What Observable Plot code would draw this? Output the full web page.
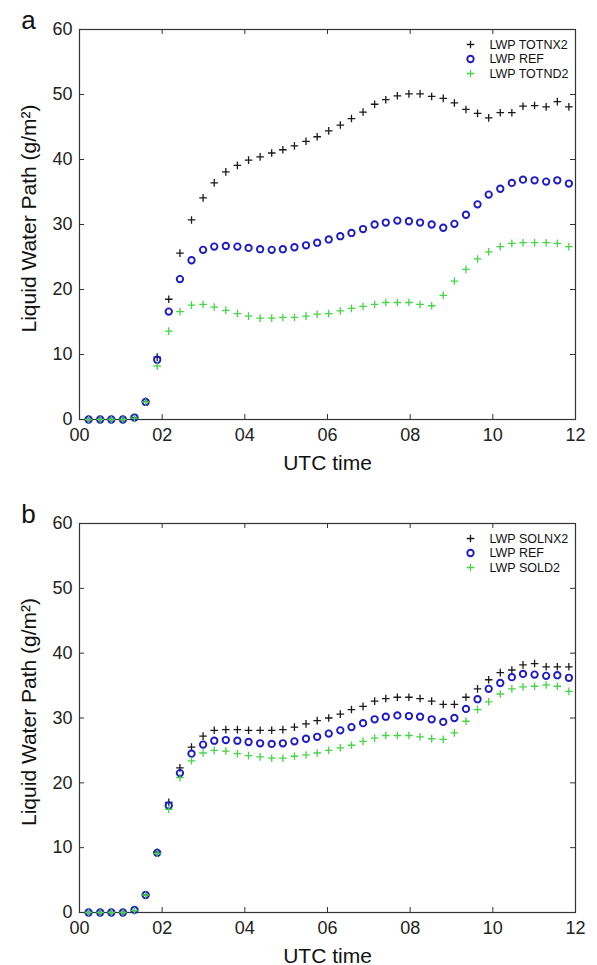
<!DOCTYPE html>
<html><head><meta charset="utf-8">
<script src="https://cdn.jsdelivr.net/npm/d3@7"></script>
<script src="https://cdn.jsdelivr.net/npm/@observablehq/plot@0.6"></script>
<style>
html,body{margin:0;padding:0;background:#fff;}
#chart{width:597px;}
#chart svg{display:block;}
</style></head><body><div id="chart"></div>
<script>
// UTC time (hours) of each model output
const times = [0.22,0.50,0.77,1.05,1.33,1.60,1.88,2.16,2.43,2.71,2.99,3.26,3.54,3.82,4.09,4.37,4.65,4.92,5.20,5.48,5.75,6.03,6.31,6.58,6.86,7.14,7.41,7.69,7.97,8.24,8.52,8.80,9.07,9.35,9.63,9.90,10.18,10.46,10.73,11.01,11.29,11.56,11.84];

// Panel a
const totnx2 = [0,0,0,0,0.3,2.8,9.6,18.5,25.6,30.7,34.1,36.4,38.1,39.1,39.9,40.4,41.0,41.5,42.1,42.8,43.5,44.4,45.3,46.3,47.3,48.5,49.2,49.8,50.1,50.1,49.7,49.4,48.7,47.7,47.1,46.4,47.2,47.2,48.2,48.3,48.1,48.9,48.1];
const refA   = [0,0,0,0,0.3,2.7,9.2,16.6,21.6,24.5,26.1,26.6,26.7,26.6,26.4,26.2,26.1,26.2,26.5,26.8,27.2,27.7,28.2,28.7,29.3,30.0,30.3,30.6,30.5,30.3,30.0,29.5,30.1,31.5,33.1,34.6,35.5,36.4,36.9,36.8,36.6,36.8,36.3];
const totnd2 = [0,0,0,0,0.2,2.7,8.2,13.6,16.6,17.6,17.7,17.3,16.8,16.3,15.9,15.6,15.6,15.7,15.7,15.9,16.2,16.3,16.7,17.1,17.4,17.7,18.0,18.0,18.0,17.7,17.5,19.1,21.3,23.1,24.7,25.8,26.6,27.1,27.2,27.2,27.2,27.1,26.6];

// Panel b
const solnx2 = [0,0,0,0,0.3,2.7,9.3,17.0,22.3,25.5,27.2,28.1,28.2,28.2,28.1,28.1,28.1,28.2,28.6,29.1,29.6,30.0,30.6,31.3,31.8,32.6,33.0,33.2,33.2,33.0,32.6,32.1,32.1,33.2,34.5,35.9,37.0,37.4,38.2,38.4,37.9,37.9,37.9];
const refB   = [0,0,0,0,0.4,2.7,9.2,16.5,21.5,24.5,25.9,26.5,26.6,26.5,26.3,26.1,26.0,26.1,26.4,26.8,27.1,27.6,28.1,28.6,29.2,29.8,30.2,30.4,30.3,30.2,29.8,29.4,30.0,31.4,32.9,34.5,35.4,36.3,36.8,36.7,36.5,36.6,36.2];
const sold2  = [0,0,0,0,0.3,2.7,9.1,15.9,20.8,23.4,24.6,25.0,24.9,24.5,24.2,24.0,23.8,23.8,24.1,24.3,24.6,25.0,25.4,25.8,26.4,26.9,27.3,27.3,27.3,27.1,26.8,26.7,27.7,29.5,31.3,32.5,33.7,34.5,34.8,34.9,35.1,34.9,34.1];

const xTicks = [0,2,4,6,8,10,12];
const xTickLabels = ["00","02","04","06","08","10","12"];
const yTicks = [0,10,20,30,40,50,60];
const xLabel = "UTC time";
const yLabel = "Liquid Water Path (g/m\u00B2)";
const labelsA = ["LWP TOTNX2","LWP REF","LWP TOTND2"];
const labelsB = ["LWP SOLNX2","LWP REF","LWP SOLD2"];

const plusSymbol = {draw(ctx, size){const r = Math.sqrt(size/Math.PI); ctx.moveTo(-r,0); ctx.lineTo(r,0); ctx.moveTo(0,-r); ctx.lineTo(0,r);}};
const styles = [
  {symbol: plusSymbol, stroke: "#1a1a1a", r: 3.8, strokeWidth: 1.3},
  {symbol: "circle", stroke: "#1c1cc4", r: 3.2, strokeWidth: 1.9},
  {symbol: plusSymbol, stroke: "#45d445", r: 3.8, strokeWidth: 1.3}
];

function panel(letter, series, labels, height, mt, mb) {
  const ml = 79, mr = 22, W = 597;
  const pw = W - ml - mr, ph = height - mt - mb;
  const axisColor = "#333";
  const marks = [
    Plot.frame({stroke: axisColor, strokeWidth: 1.2}),
    Plot.tickX(xTicks, {x: d => d, insetTop: ph - 5, stroke: axisColor}),
    Plot.tickX(xTicks, {x: d => d, insetBottom: ph - 5, stroke: axisColor}),
    Plot.tickY(yTicks, {y: d => d, insetRight: pw - 5, stroke: axisColor}),
    Plot.tickY(yTicks, {y: d => d, insetLeft: pw - 5, stroke: axisColor}),
    Plot.axisX(xTicks, {tickSize: 0, tickPadding: 9, tickFormat: d => xTickLabels[xTicks.indexOf(d)], label: null, fill: "#222"}),
    Plot.axisY(yTicks, {tickSize: 0, tickPadding: 7, label: null, fill: "#222"}),
    Plot.text([xLabel], {frameAnchor: "bottom", dy: 50, textAnchor: "middle", lineAnchor: "bottom", fontSize: 21, fill: "#111"}),
    Plot.text([yLabel], {frameAnchor: "left", rotate: -90, dx: -44, dy: -6, textAnchor: "middle", lineAnchor: "bottom", fontSize: 21, fill: "#111"}),
    Plot.text([letter], {frameAnchor: "top-left", dx: -51, dy: -1, textAnchor: "middle", lineAnchor: "bottom", fontSize: 26, fill: "#111"})
  ];
  series.forEach((vals, k) => {
    const s = styles[k];
    marks.push(Plot.dot(times.map((t, i) => ({t, v: vals[i]})), {x: "t", y: "v", symbol: s.symbol, r: s.r, stroke: s.stroke, strokeWidth: s.strokeWidth, fill: "none"}));
  });
  labels.forEach((lab, k) => {
    const s = styles[k];
    const dy = 15 + k * 14.5;
    marks.push(Plot.dot([lab], {frameAnchor: "top-right", dx: -105, dy, symbol: s.symbol, r: s.r, stroke: s.stroke, strokeWidth: s.strokeWidth, fill: "none"}));
    marks.push(Plot.text([lab], {frameAnchor: "top-right", dx: -86, dy, textAnchor: "start", lineAnchor: "middle", fontSize: 12.5, fill: "#111"}));
  });
  return Plot.plot({
    width: W, height, marginLeft: ml, marginRight: mr, marginTop: mt, marginBottom: mb,
    style: {fontFamily: "'Liberation Sans', Arial, Helvetica, sans-serif", fontSize: "18px", background: "#fff", color: "#222"},
    x: {domain: [0, 12]},
    y: {domain: [0, 60]},
    marks
  });
}

const chart = document.getElementById("chart");
chart.appendChild(panel("a", [totnx2, refA, totnd2], labelsA, 482, 29, 63));
chart.appendChild(panel("b", [solnx2, refB, sold2], labelsB, 483, 41, 53));
</script>
</body></html>
